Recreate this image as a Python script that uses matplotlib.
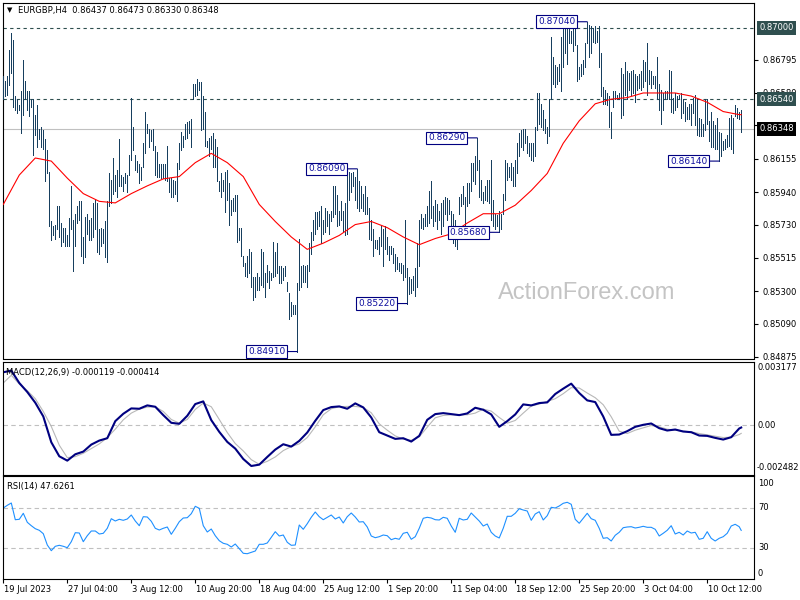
import matplotlib
matplotlib.use('Agg')
import matplotlib.pyplot as plt
import numpy as np

plt.rcParams['font.family'] = ['DejaVu Sans']
plt.rcParams['font.size'] = 6

# EURGBP H4 bars, one value per bar (high / low)
high = [
    0.8669, 0.8666, 0.8669, 0.8686, 0.8697, 0.8692, 0.8656, 0.8654, 0.8650, 0.8659,
    0.8679, 0.8666, 0.8659, 0.8659, 0.8654, 0.8654, 0.8644, 0.8650, 0.8635, 0.8636,
    0.8634, 0.8628, 0.8621, 0.8607, 0.8575, 0.8572, 0.8573, 0.8585, 0.8585, 0.8574,
    0.8571, 0.8571, 0.8566, 0.8577, 0.8598, 0.8576, 0.8580, 0.8585, 0.8588, 0.8588,
    0.8565, 0.8578, 0.8580, 0.8576, 0.8577, 0.8587, 0.8589, 0.8587, 0.8570, 0.8571,
    0.8570, 0.8575, 0.8588, 0.8606, 0.8602, 0.8616, 0.8605, 0.8608, 0.8628, 0.8605,
    0.8604, 0.8606, 0.8605, 0.8618, 0.8655, 0.8636, 0.8618, 0.8614, 0.8612, 0.8610,
    0.8626, 0.8646, 0.8638, 0.8635, 0.8634, 0.8635, 0.8624, 0.8620, 0.8612, 0.8612,
    0.8612, 0.8612, 0.8624, 0.8603, 0.8603, 0.8602, 0.8601, 0.8613, 0.8626, 0.8633,
    0.8630, 0.8638, 0.8639, 0.8640, 0.8641, 0.8664, 0.8664, 0.8667, 0.8665,
    0.8665, 0.8656, 0.8646, 0.8627, 0.8629, 0.8630, 0.8632, 0.8628, 0.8623, 0.8601,
    0.8606, 0.8602, 0.8607, 0.8608, 0.8600, 0.8589, 0.8590, 0.8592, 0.8592, 0.8571,
    0.8571, 0.8553, 0.8548, 0.8553, 0.8557, 0.8555, 0.8539, 0.8539, 0.8542, 0.8539,
    0.8557, 0.8555, 0.8542, 0.8547, 0.8543, 0.8542, 0.8562, 0.8555, 0.8561, 0.8546,
    0.8546, 0.8545, 0.8546, 0.8536, 0.8529, 0.8523, 0.8521, 0.8521, 0.8535, 0.8564,
    0.8546, 0.8547, 0.8546, 0.8547, 0.8561, 0.8568, 0.8576, 0.8581, 0.8581, 0.8582,
    0.8585, 0.8576, 0.8584, 0.8582, 0.8580, 0.8582, 0.8598, 0.8598, 0.8592, 0.8582,
    0.8588, 0.8582, 0.8587, 0.8608, 0.8607, 0.8606, 0.8607, 0.8604, 0.8609, 0.8601,
    0.8598, 0.8593, 0.8598, 0.8591, 0.8584, 0.8576, 0.8570, 0.8563, 0.8563, 0.8565,
    0.8572, 0.8570, 0.8572, 0.8565, 0.8559, 0.8559, 0.8558, 0.8554, 0.8552, 0.8548,
    0.8548, 0.8547, 0.8576, 0.8545, 0.8539, 0.8538, 0.8540, 0.8545, 0.8561, 0.8576,
    0.8580, 0.8577, 0.8580, 0.8585, 0.8595, 0.8601, 0.8585, 0.8589, 0.8586, 0.8582,
    0.8587, 0.8589, 0.8591, 0.8590, 0.8589, 0.8582, 0.8580, 0.8576, 0.8572, 0.8591,
    0.8593, 0.8598, 0.8591, 0.8600, 0.8600, 0.8613, 0.8613, 0.8617, 0.8629, 0.8615,
    0.8602, 0.8594, 0.8598, 0.8602, 0.8602, 0.8615, 0.8589, 0.8580, 0.8579, 0.8582,
    0.8580, 0.8593, 0.8615, 0.8613, 0.8610, 0.8613, 0.8610, 0.8615, 0.8626, 0.8632,
    0.8634, 0.8635, 0.8635, 0.8630, 0.8626, 0.8626, 0.8626, 0.8636, 0.8658, 0.8658,
    0.8651, 0.8647, 0.8641, 0.8636, 0.8654, 0.8694, 0.8681, 0.8676, 0.8675, 0.8677,
    0.8694, 0.8699, 0.8699, 0.8699, 0.8700, 0.8698, 0.8701, 0.8702, 0.8689, 0.8675,
    0.8677, 0.8679, 0.8690, 0.8704, 0.8702, 0.8701, 0.8700, 0.8701, 0.8698, 0.8701,
    0.8684, 0.8662, 0.8660, 0.8658, 0.8656, 0.8646, 0.8659, 0.8659, 0.8657, 0.8658,
    0.8674, 0.8670, 0.8678, 0.8672, 0.8671, 0.8672, 0.8673, 0.8670, 0.8669, 0.8670,
    0.8672, 0.8679, 0.8678, 0.8690, 0.8673, 0.8672, 0.8669, 0.8669, 0.8681, 0.8664,
    0.8660, 0.8658, 0.8659, 0.8659, 0.8673, 0.8672, 0.8655, 0.8658, 0.8656, 0.8657,
    0.8658, 0.8654, 0.8652, 0.8649, 0.8651, 0.8651, 0.8655, 0.8657, 0.8654, 0.8642,
    0.8641, 0.8638, 0.8654, 0.8654, 0.8640, 0.8646, 0.8640, 0.8637, 0.8642, 0.8633,
    0.8632, 0.8627, 0.8628, 0.8631, 0.8642, 0.8644, 0.8642, 0.8650, 0.8648, 0.8646,
    0.8647,
]
low = [
    0.8654, 0.8656, 0.8657, 0.8663, 0.8671, 0.8649, 0.8647, 0.8645, 0.8647, 0.8632,
    0.8644, 0.8654, 0.8647, 0.8643, 0.8649, 0.8618, 0.8631, 0.8623, 0.8628, 0.8623,
    0.8622, 0.8601, 0.8606, 0.8572, 0.8563, 0.8566, 0.8564, 0.8570, 0.8565, 0.8559,
    0.8562, 0.8559, 0.8559, 0.8559, 0.8570, 0.8543, 0.8559, 0.8574, 0.8576, 0.8553,
    0.8548, 0.8552, 0.8567, 0.8563, 0.8563, 0.8565, 0.8570, 0.8555, 0.8554, 0.8559,
    0.8561, 0.8552, 0.8549, 0.8585, 0.8587, 0.8593, 0.8595, 0.8591, 0.8598, 0.8598,
    0.8595, 0.8600, 0.8594, 0.8605, 0.8615, 0.8621, 0.8608, 0.8607, 0.8600, 0.8602,
    0.8610, 0.8619, 0.8632, 0.8623, 0.8627, 0.8621, 0.8605, 0.8604, 0.8604, 0.8603,
    0.8603, 0.8602, 0.8601, 0.8594, 0.8591, 0.8591, 0.8593, 0.8588, 0.8609, 0.8621,
    0.8623, 0.8628, 0.8629, 0.8632, 0.8623, 0.8654, 0.8656, 0.8657, 0.8660,
    0.8634, 0.8635, 0.8624, 0.8623, 0.8617, 0.8622, 0.8610, 0.8610, 0.8601, 0.8595,
    0.8591, 0.8595, 0.8581, 0.8589, 0.8573, 0.8579, 0.8582, 0.8582, 0.8562, 0.8563,
    0.8553, 0.8546, 0.8540, 0.8539, 0.8542, 0.8533, 0.8524, 0.8526, 0.8531, 0.8531,
    0.8534, 0.8533, 0.8526, 0.8536, 0.8532, 0.8537, 0.8539, 0.8540, 0.8542, 0.8535,
    0.8535, 0.8537, 0.8540, 0.8530, 0.8512, 0.8514, 0.8515, 0.8515, 0.8491, 0.8531,
    0.8533, 0.8536, 0.8536, 0.8533, 0.8543, 0.8554, 0.8563, 0.8567, 0.8570, 0.8572,
    0.8561, 0.8567, 0.8568, 0.8572, 0.8567, 0.8575, 0.8578, 0.8580, 0.8572, 0.8573,
    0.8576, 0.8568, 0.8566, 0.8567, 0.8589, 0.8594, 0.8598, 0.8589, 0.8584, 0.8582,
    0.8584, 0.8582, 0.8580, 0.8580, 0.8564, 0.8563, 0.8553, 0.8558, 0.8557, 0.8554,
    0.8559, 0.8546, 0.8557, 0.8554, 0.8550, 0.8554, 0.8548, 0.8543, 0.8544, 0.8543,
    0.8542, 0.8537, 0.8539, 0.8522, 0.8528, 0.8529, 0.8531, 0.8527, 0.8533, 0.8546,
    0.8571, 0.8570, 0.8572, 0.8572, 0.8574, 0.8577, 0.8572, 0.8575, 0.8570, 0.8576,
    0.8567, 0.8572, 0.8580, 0.8576, 0.8580, 0.8567, 0.8561, 0.8559, 0.8557, 0.8580,
    0.8585, 0.8586, 0.8570, 0.8585, 0.8587, 0.8595, 0.8601, 0.8599, 0.8608, 0.8591,
    0.8589, 0.8587, 0.8589, 0.8588, 0.8587, 0.8576, 0.8572, 0.8570, 0.8572, 0.8568,
    0.8570, 0.8580, 0.8589, 0.8602, 0.8604, 0.8602, 0.8598, 0.8598, 0.8606, 0.8617,
    0.8623, 0.8621, 0.8626, 0.8619, 0.8617, 0.8615, 0.8614, 0.8617, 0.8634, 0.8638,
    0.8636, 0.8634, 0.8632, 0.8626, 0.8630, 0.8654, 0.8664, 0.8662, 0.8664, 0.8666,
    0.8659, 0.8675, 0.8684, 0.8677, 0.8690, 0.8690, 0.8685, 0.8689, 0.8666, 0.8667,
    0.8669, 0.8670, 0.8675, 0.8690, 0.8681, 0.8684, 0.8691, 0.8690, 0.8691, 0.8675,
    0.8656, 0.8651, 0.8651, 0.8650, 0.8636, 0.8629, 0.8649, 0.8654, 0.8654, 0.8654,
    0.8642, 0.8644, 0.8657, 0.8654, 0.8660, 0.8657, 0.8658, 0.8652, 0.8660, 0.8661,
    0.8660, 0.8662, 0.8666, 0.8657, 0.8664, 0.8661, 0.8664, 0.8661, 0.8654, 0.8647,
    0.8638, 0.8647, 0.8654, 0.8654, 0.8654, 0.8646, 0.8645, 0.8647, 0.8649, 0.8654,
    0.8642, 0.8645, 0.8640, 0.8641, 0.8641, 0.8637, 0.8645, 0.8637, 0.8631, 0.8630,
    0.8630, 0.8630, 0.8634, 0.8638, 0.8627, 0.8623, 0.8623, 0.8622, 0.8622, 0.8614,
    0.8617, 0.8621, 0.8622, 0.8623, 0.8624, 0.8622, 0.8619, 0.8643, 0.8642, 0.8641,
    0.8633,
]

# red moving average, read every 8 bars (last point = last bar)
ma = [
    0.8586, 0.8605, 0.8616, 0.8614, 0.8603, 0.8593, 0.8588, 0.8587, 0.8593, 0.8598,
    0.86025, 0.8604, 0.8613, 0.8619, 0.8613, 0.8604, 0.8586, 0.8575, 0.8565, 0.8557,
    0.8561, 0.8566, 0.8573, 0.8575, 0.8571, 0.8565, 0.8560, 0.8564, 0.8567, 0.8574,
    0.8580, 0.8580, 0.85855, 0.8595, 0.8606, 0.86255, 0.8640, 0.8651, 0.8654, 0.8655,
    0.8658, 0.8658, 0.8658, 0.8656, 0.8652, 0.8646, 0.8644, 0.8644,
]

# MACD(12,26,9) main and signal, read every 4 bars
macd_main = [
    0.002661, 0.002745, 0.002122, 0.001667, 0.001128, 0.000438, -0.000859, -0.001566, -0.001785, -0.001465,
    -0.001330, -0.000977, -0.000775, -0.000657, 0.000202, 0.000573, 0.000842, 0.000825, 0.000994, 0.000926,
    0.000505, 0.000118, 0.000067, 0.000472, 0.001061, 0.001196, 0.000253, -0.000337, -0.000842, -0.001179,
    -0.001701, -0.002054, -0.001987, -0.001600, -0.001229, -0.000960, -0.001078, -0.000791, -0.000370, 0.000219,
    0.000758, 0.000909, 0.000943, 0.000825, 0.001095, 0.000893, 0.000387, -0.000354, -0.000522, -0.000690,
    -0.000657, -0.000825, -0.000539, 0.000269, 0.000556, 0.000606, 0.000556, 0.000505, 0.000589, 0.000876,
    0.000775, 0.000539, -0.000084, 0.000202, 0.000539, 0.001044, 0.000994, 0.001111, 0.001145, 0.001566,
    0.001836, 0.002088, 0.001617, 0.001246, 0.001162, 0.000438, -0.000488, -0.000472, -0.000303, -0.000084,
    0.000017, 0.000084, -0.000152, -0.000269, -0.000219, -0.000320, -0.000354, -0.000522, -0.000539, -0.000640,
    -0.000724, -0.000606, -0.000168, -0.000119,
]
macd_signal = [
    0.002122, 0.002509, 0.002071, 0.001735, 0.001330, 0.000690, -0.000067, -0.001010, -0.001633, -0.001583,
    -0.001415, -0.001179, -0.000943, -0.000623, -0.000202, 0.000269, 0.000606, 0.000808, 0.000909, 0.000926,
    0.000690, 0.000286, 0.000101, 0.000286, 0.000791, 0.001111, 0.000926, 0.000286, -0.000370, -0.000926,
    -0.001297, -0.001735, -0.001970, -0.001819, -0.001600, -0.001280, -0.001078, -0.000943, -0.000623, -0.000084,
    0.000522, 0.000825, 0.000926, 0.000943, 0.000943, 0.000893, 0.000623, 0.000067, -0.000253, -0.000539,
    -0.000707, -0.000758, -0.000589, -0.000101, 0.000370, 0.000488, 0.000522, 0.000522, 0.000522, 0.000606,
    0.000808, 0.000707, 0.000387, 0.000101, 0.000236, 0.000606, 0.000960, 0.001061, 0.001196, 0.001330,
    0.001583, 0.001886, 0.001869, 0.001617, 0.001381, 0.001027, 0.000421, -0.000303, -0.000421, -0.000253,
    -0.000135, -0.000017, -0.000084, -0.000202, -0.000253, -0.000303, -0.000337, -0.000421, -0.000488, -0.000556,
    -0.000623, -0.000606, -0.000472, -0.000414,
]

# RSI(14), read every 2 bars
rsi = [
    70.0, 72.7, 75.0, 58.3, 58.7, 64.7, 55.7, 52.3, 49.3, 47.7,
    44.3, 33.0, 27.3, 31.7, 32.7, 31.7, 30.3, 36.3, 45.3, 45.0,
    36.3, 42.3, 47.0, 47.0, 44.0, 44.7, 49.7, 59.3, 57.0, 58.7,
    57.7, 59.0, 63.0, 57.0, 52.3, 61.3, 61.0, 56.7, 49.7, 48.0,
    49.7, 51.0, 43.7, 49.7, 56.3, 60.0, 60.3, 64.3, 71.7, 69.7,
    52.3, 46.0, 49.0, 42.3, 37.3, 34.7, 33.7, 31.0, 34.0, 29.3,
    24.7, 24.3, 25.7, 27.0, 33.7, 33.7, 35.0, 40.7, 46.3, 42.0,
    43.0, 35.7, 32.7, 33.0, 53.0, 48.7, 54.3, 60.7, 66.0, 61.3,
    58.3, 60.7, 63.0, 59.0, 61.0, 55.0, 61.3, 65.0, 61.0, 56.0,
    56.3, 51.0, 42.0, 40.3, 41.3, 43.0, 42.3, 38.3, 39.7, 38.7,
    44.7, 45.7, 38.7, 41.3, 49.7, 59.7, 60.7, 60.0, 58.3, 58.0,
    60.7, 59.7, 52.0, 45.7, 59.7, 58.0, 58.7, 65.0, 61.0, 57.0,
    52.0, 54.0, 45.7, 42.0, 40.0, 49.7, 61.7, 61.7, 64.7, 69.3,
    68.0, 67.0, 57.7, 64.0, 66.3, 58.0, 62.3, 70.7, 70.0, 72.0,
    74.7, 75.7, 73.7, 58.7, 54.7, 59.7, 64.7, 59.3, 57.7, 49.7,
    39.7, 40.3, 37.0, 42.7, 45.7, 50.3, 51.0, 51.3, 50.0, 50.7,
    51.7, 50.7, 50.7, 48.7, 42.0, 44.7, 47.7, 52.3, 44.0, 45.7,
    43.0, 47.0, 45.0, 45.7, 38.7, 39.7, 46.3, 39.7, 37.0, 39.7,
    41.3, 44.7, 52.0, 53.7, 51.3, 47.6261,
]

price_ticks = [0.86795, 0.86580, 0.86370, 0.86155, 0.85940,
               0.85730, 0.85515, 0.85300, 0.85090, 0.84875]
date_idx = [0, 32, 64, 96, 128, 160, 192, 224, 256, 288, 320, 352]
date_labels = ['19 Jul 2023', '27 Jul 04:00', '3 Aug 12:00', '10 Aug 20:00',
               '18 Aug 04:00', '25 Aug 12:00', '1 Sep 20:00', '11 Sep 04:00',
               '18 Sep 12:00', '25 Sep 20:00', '3 Oct 04:00', '10 Oct 12:00']
swing_idx = [147, 177, 202, 237, 248, 292, 358]
swing_val = [0.84910, 0.86090, 0.85220, 0.86290, 0.85680, 0.87040, 0.86140]
level_lines = [0.87000, 0.86540]
last_price = 0.86348

bar_color = '#173f5f'
slate = '#2f4f4f'

W, H = 800, 600
fig = plt.figure(figsize=(8, 6), dpi=100)


def rect(l, t, r, b):
    return [l / W, 1 - b / H, (r - l) / W, (b - t) / H]


ax = fig.add_axes(rect(2.7, 2.7, 754, 358.5))
ax_macd = fig.add_axes(rect(2.7, 362, 754, 474.5), sharex=ax)
ax_rsi = fig.add_axes(rect(2.7, 476, 754, 579), sharex=ax)

n = len(high)
bar_x = np.arange(n)

# --- price panel ---
ax.vlines(bar_x, low, high, colors=bar_color, linewidth=0.5, antialiased=False, zorder=3)
ma_x = np.minimum(np.arange(len(ma)) * 8, n - 1)
ax.plot(ma_x, ma, color='red', lw=0.8, zorder=4)
for lv in level_lines:
    ax.axhline(lv, color=slate, lw=0.8, ls=(0, (3, 3)), zorder=2)
ax.axhline(last_price, color='#c0c0c0', lw=0.8, zorder=1)

ax.set_xlim(-0.3, 375.4)
ax.set_ylim(0.84865, 0.87163)
ax.yaxis.tick_right()
ax.set_yticks(price_ticks)
ax.set_yticklabels([f'{t:.5f}' for t in price_ticks])
ax.tick_params(axis='y', length=3, width=0.8, pad=3, labelsize=6)
ax.tick_params(axis='x', bottom=False, labelbottom=False)

for lv in level_lines:
    ax.annotate(f'{lv:.5f}', xy=(1, lv), xycoords=('axes fraction', 'data'),
                xytext=(5, 0), textcoords='offset pixels', ha='left', va='center',
                color='white', fontsize=6, zorder=10, annotation_clip=False,
                bbox=dict(boxstyle='square,pad=0.3', fc=slate, ec='none'))
ax.annotate(f'{last_price:.5f}', xy=(1, last_price), xycoords=('axes fraction', 'data'),
            xytext=(5, 0), textcoords='offset pixels', ha='left', va='center',
            color='white', fontsize=6, zorder=10, annotation_clip=False,
            bbox=dict(boxstyle='square,pad=0.3', fc='black', ec='none'))

for i, v in zip(swing_idx, swing_val):
    ax.annotate(f'{v:.5f}', xy=(i, v), xytext=(-12, 0), textcoords='offset pixels',
                ha='right', va='center', fontsize=6.5, color='#1010a0', zorder=6,
                bbox=dict(boxstyle='square,pad=0.2', fc='white', ec='#000080', lw=0.8),
                arrowprops=dict(arrowstyle='-', color='#000080', lw=0.8,
                                shrinkA=0, shrinkB=0))

ax.text(0.777, 0.185, 'ActionForex.com', transform=ax.transAxes, ha='center',
        va='center', fontsize=17, color='#c4c4c4', family='Liberation Sans', zorder=0)

fig.text(7 / W, 1 - 10 / H, '\u25bc', fontsize=5, va='center', ha='left')
fig.text(18 / W, 1 - 10 / H, 'EURGBP,H4  0.86437 0.86473 0.86330 0.86348',
         fontsize=6, va='center', ha='left')

# --- MACD panel ---
macd_x = np.minimum(np.arange(len(macd_main)) * 4, n - 1)
ax_macd.axhline(0, color='#c0c0c0', lw=0.8, ls=(0, (4, 3)))
ax_macd.plot(macd_x, macd_signal, color='#b8b8b8', lw=0.8)
ax_macd.plot(macd_x, macd_main, color='#000080', lw=1.5)
ax_macd.set_ylim(-0.002482, 0.003177)
ax_macd.set_yticks([])
ax_macd.tick_params(axis='x', bottom=False, labelbottom=False)
ax_macd.annotate('MACD(12,26,9) -0.000119 -0.000414', xy=(0, 1), xycoords='axes fraction',
                 xytext=(3, -10), textcoords='offset pixels', va='center', fontsize=6)
ax_macd.annotate('0.003177', xy=(1, 1), xycoords='axes fraction', xytext=(4, -1),
                 textcoords='offset pixels', va='top', fontsize=6, annotation_clip=False)
ax_macd.annotate('0.00', xy=(1, 0), xycoords=('axes fraction', 'data'), xytext=(3, 0),
                 textcoords='offset pixels', va='center', fontsize=6, annotation_clip=False)
ax_macd.annotate('-0.002482', xy=(1, 0), xycoords='axes fraction', xytext=(3, 2),
                 textcoords='offset pixels', va='bottom', fontsize=6, annotation_clip=False)

# --- RSI panel ---
rsi_x = np.minimum(np.arange(len(rsi)) * 2, n - 1)
for lv in (70, 30):
    ax_rsi.axhline(lv, color='#c0c0c0', lw=0.8, ls=(0, (4, 3)))
ax_rsi.plot(rsi_x, rsi, color='#1e90ff', lw=0.8)
ax_rsi.set_ylim(-1, 102)
ax_rsi.set_yticks([])
ax_rsi.annotate('RSI(14) 47.6261', xy=(0, 1), xycoords='axes fraction',
                xytext=(4, -10), textcoords='offset pixels', va='center', fontsize=6)
for txt, yv in (('100', 95), ('70', 70), ('30', 30), ('0', 5)):
    ax_rsi.annotate(txt, xy=(1, yv), xycoords=('axes fraction', 'data'), xytext=(4, 0),
                    textcoords='offset pixels', va='center', fontsize=6, annotation_clip=False)

ax_rsi.set_xticks(date_idx)
ax_rsi.tick_params(axis='x', length=3, width=0.8, direction='out', labelbottom=False)
for i, lbl in zip(date_idx, date_labels):
    ax_rsi.annotate(lbl, xy=(i, 0), xycoords=('data', 'axes fraction'), xytext=(1, -11),
                    textcoords='offset pixels', ha='left', va='center', fontsize=6,
                    annotation_clip=False)

for a in (ax, ax_macd, ax_rsi):
    for s in a.spines.values():
        s.set_linewidth(0.8)
        s.set_color('black')

fig.savefig('out.png', dpi=100)
